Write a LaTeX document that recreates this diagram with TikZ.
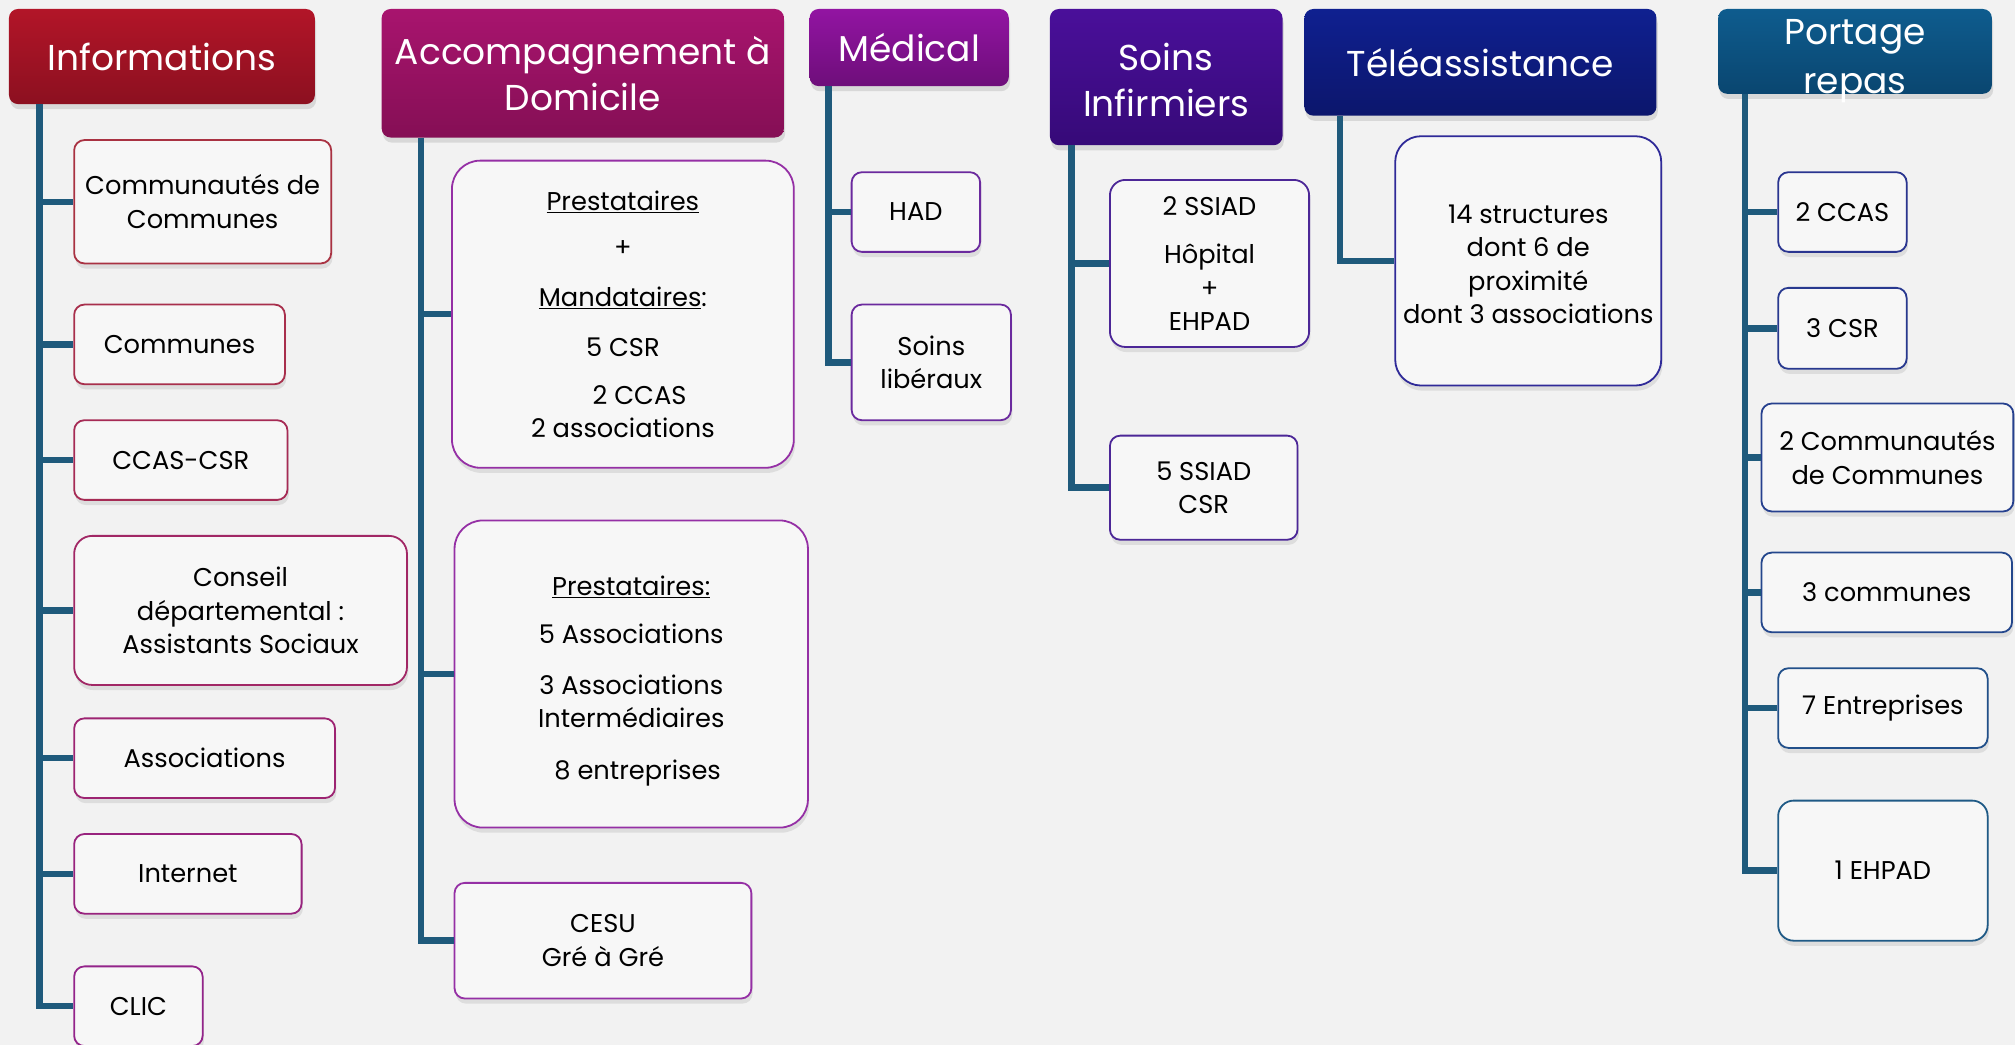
\documentclass[tikz,border=0pt]{standalone}
\usepackage{fontspec}
\setmainfont{Poppins}
\usepackage{xcolor}
\usepackage{tikz}
\usetikzlibrary{shadows}
\definecolor{bg}{HTML}{F2F2F2}
\definecolor{boxfill}{HTML}{F7F7F7}
\definecolor{trunkblue}{HTML}{1F5A7C}
\definecolor{infoA}{HTML}{B21528}
\definecolor{infoB}{HTML}{8C1020}
\definecolor{accA}{HTML}{A8146E}
\definecolor{accB}{HTML}{850F55}
\definecolor{medA}{HTML}{9214A2}
\definecolor{medB}{HTML}{6E0E7A}
\definecolor{soinA}{HTML}{4A0F9A}
\definecolor{soinB}{HTML}{360A78}
\definecolor{teleA}{HTML}{0F2090}
\definecolor{teleB}{HTML}{0C166C}
\definecolor{portA}{HTML}{0E5C8E}
\definecolor{portB}{HTML}{0A4670}
% child borders
\definecolor{infoL1}{HTML}{A93242}
\definecolor{infoL2}{HTML}{A82F4C}
\definecolor{infoL3}{HTML}{A62B55}
\definecolor{infoL4}{HTML}{A12765}
\definecolor{infoL5}{HTML}{9D2472}
\definecolor{infoL6}{HTML}{98237E}
\definecolor{infoL7}{HTML}{93248A}
\definecolor{accL}{HTML}{9530A5}
\definecolor{medL}{HTML}{6B2A9E}
\definecolor{soinL}{HTML}{4C2797}
\definecolor{teleL}{HTML}{2F2A98}
\definecolor{portL1}{HTML}{2A3590}
\definecolor{portL2}{HTML}{28398F}
\definecolor{portL3}{HTML}{26408E}
\definecolor{portL4}{HTML}{24478C}
\definecolor{portL5}{HTML}{22508A}
\definecolor{portL6}{HTML}{1F5A86}
\newcommand{\headfont}{\fontsize{28}{36}\selectfont}
\newcommand{\itemfont}{\fontsize{20}{26}\selectfont}
\tikzset{
  head/.style 2 args={rounded corners=7pt, top color=#1, bottom color=#2, draw=none,
    text=white, font=\headfont, align=center, inner sep=0pt,
    drop shadow={shadow xshift=1pt, shadow yshift=-4pt, opacity=0.22}},
  item/.style={rounded corners=8pt, draw=#1, line width=1.4pt, fill=boxfill,
    font=\itemfont, align=center, inner sep=0pt, anchor=west,
    drop shadow={shadow xshift=1pt, shadow yshift=-4pt, opacity=0.18}},
  trunk/.style={draw=trunkblue, line width=5pt},
}

\begin{document}
\begin{tikzpicture}[x=1pt,y=-1pt]
  \useasboundingbox[fill=bg] (0,0) rectangle (1568,813);

  % column headers
  \node[head={infoA}{infoB}, minimum width=238pt, minimum height=74pt] (info) at (126,44) {Informations};
  \node[head={accA}{accB}, minimum width=313pt, minimum height=100pt] (acc) at (453.5,57) {Accompagnement à\\Domicile};
  \node[head={medA}{medB}, minimum width=155pt, minimum height=60pt] (med) at (707.5,37) {Médical};
  \node[head={soinA}{soinB}, minimum width=181pt, minimum height=106pt] (soin) at (907.5,60) {\rule{0pt}{26pt}Soins\\Infirmiers};
  \node[head={teleA}{teleB}, minimum width=274pt, minimum height=83pt] (tele) at (1152,48.5) {Téléassistance};
  \node[head={portA}{portB}, minimum width=213pt, minimum height=66pt] (port) at (1443.5,40) {\rule{0pt}{27pt}Portage\\[2pt]\smash{repas}};

  % Informations
  \node[item=infoL1, minimum width=200pt, minimum height=96pt] (ic1) at (57,157) {Communautés de\\Communes};
  \node[item=infoL2, minimum width=164pt, minimum height=62pt] (ic2) at (57,268) {Communes};
  \node[item=infoL3, minimum width=166pt, minimum height=62pt] (ic3) at (57,358) {CCAS-CSR};
  \node[item=infoL4, rounded corners=14pt, minimum width=259pt, minimum height=116pt] (ic4) at (57,475) {Conseil\\départemental :\\Assistants Sociaux};
  \node[item=infoL5, minimum width=203pt, minimum height=62pt] (ic5) at (57,590) {Associations};
  \node[item=infoL6, minimum width=177pt, minimum height=62pt] (ic6) at (57,680) {Internet};
  \node[item=infoL7, minimum width=100pt, minimum height=62pt] (ic7) at (57,783) {CLIC};

  % Accompagnement a Domicile
  \node[item=accL, rounded corners=22pt, minimum width=266pt, minimum height=239pt] (ac1) at (351,244.5)
    {\underline{Prestataires}\\[10pt]+\\[13pt]\underline{Mandataires}:\\[13pt]5 CSR\\[11pt]\hspace*{26pt}2 CCAS\\2 associations};
  \node[item=accL, rounded corners=22pt, minimum width=275pt, minimum height=239pt] (ac2) at (353,524.5)
    {\rule{0pt}{26pt}\underline{Prestataires:}\\[11pt]5 Associations\\[14pt]3 Associations\\Intermédiaires\\[14pt]\hspace*{10pt}8 entreprises};
  \node[item=accL, minimum width=231pt, minimum height=90pt] (ac3) at (353,732) {CESU\\Gré à Gré};

  % Medical
  \node[item=medL, minimum width=100pt, minimum height=62pt] (mc1) at (662,165) {HAD};
  \node[item=medL, minimum width=124pt, minimum height=90pt] (mc2) at (662,282) {Soins\\libéraux};

  % Soins Infirmiers
  \node[item=soinL, rounded corners=12pt, minimum width=155pt, minimum height=130pt] (sc1) at (863,205)
    {2 SSIAD\\[12pt]Hôpital\\+\\EHPAD};
  \node[item=soinL, minimum width=146pt, minimum height=81pt] (sc2) at (863,379.5) {5 SSIAD\\CSR};

  % Teleassistance
  \node[item=teleL, rounded corners=20pt, minimum width=207pt, minimum height=194pt] (tc1) at (1085,203)
    {\rule{0pt}{20pt}14 structures\\dont 6 de\\proximité\\dont 3 associations};

  % Portage repas
  \node[item=portL1, minimum width=100pt, minimum height=62pt] (pc1) at (1383,165) {2 CCAS};
  \node[item=portL2, minimum width=100pt, minimum height=63pt] (pc2) at (1383,255.5) {3 CSR};
  \node[item=portL3, minimum width=196pt, minimum height=84pt] (pc3) at (1370,356) {2 Communautés\\de Communes};
  \node[item=portL4, minimum width=195pt, minimum height=62pt] (pc4) at (1370,461) {3 communes};
  \node[item=portL5, minimum width=163pt, minimum height=62pt] (pc5) at (1383,551) {7 Entreprises};
  \node[item=portL6, rounded corners=12pt, minimum width=163pt, minimum height=109pt] (pc6) at (1383,677.5) {1 EHPAD};

  % trunks
  \coordinate (infoT) at ([xshift=24pt]info.south west);
  \coordinate (accT) at ([xshift=31pt]acc.south west);
  \coordinate (medT) at ([xshift=15pt]med.south west);
  \coordinate (soinT) at ([xshift=17pt]soin.south west);
  \coordinate (teleT) at ([xshift=28pt]tele.south west);
  \coordinate (portT) at ([xshift=21pt]port.south west);

  \foreach \c in {ic1,ic2,ic3,ic4,ic5,ic6}
    \draw[trunk] (infoT |- \c.west) -- (\c.west);
  \draw[trunk] (infoT) |- (ic7.west);
  \foreach \c in {ac1,ac2}
    \draw[trunk] (accT |- \c.west) -- (\c.west);
  \draw[trunk] (accT) |- (ac3.west);
  \draw[trunk] (medT |- mc1.west) -- (mc1.west);
  \draw[trunk] (medT) |- (mc2.west);
  \draw[trunk] (soinT |- sc1.west) -- (sc1.west);
  \draw[trunk] (soinT) |- (sc2.west);
  \draw[trunk] (teleT) |- (tc1.west);
  \foreach \c in {pc1,pc2,pc3,pc4,pc5}
    \draw[trunk] (portT |- \c.west) -- (\c.west);
  \draw[trunk] (portT) |- (pc6.west);
\end{tikzpicture}
\end{document}
